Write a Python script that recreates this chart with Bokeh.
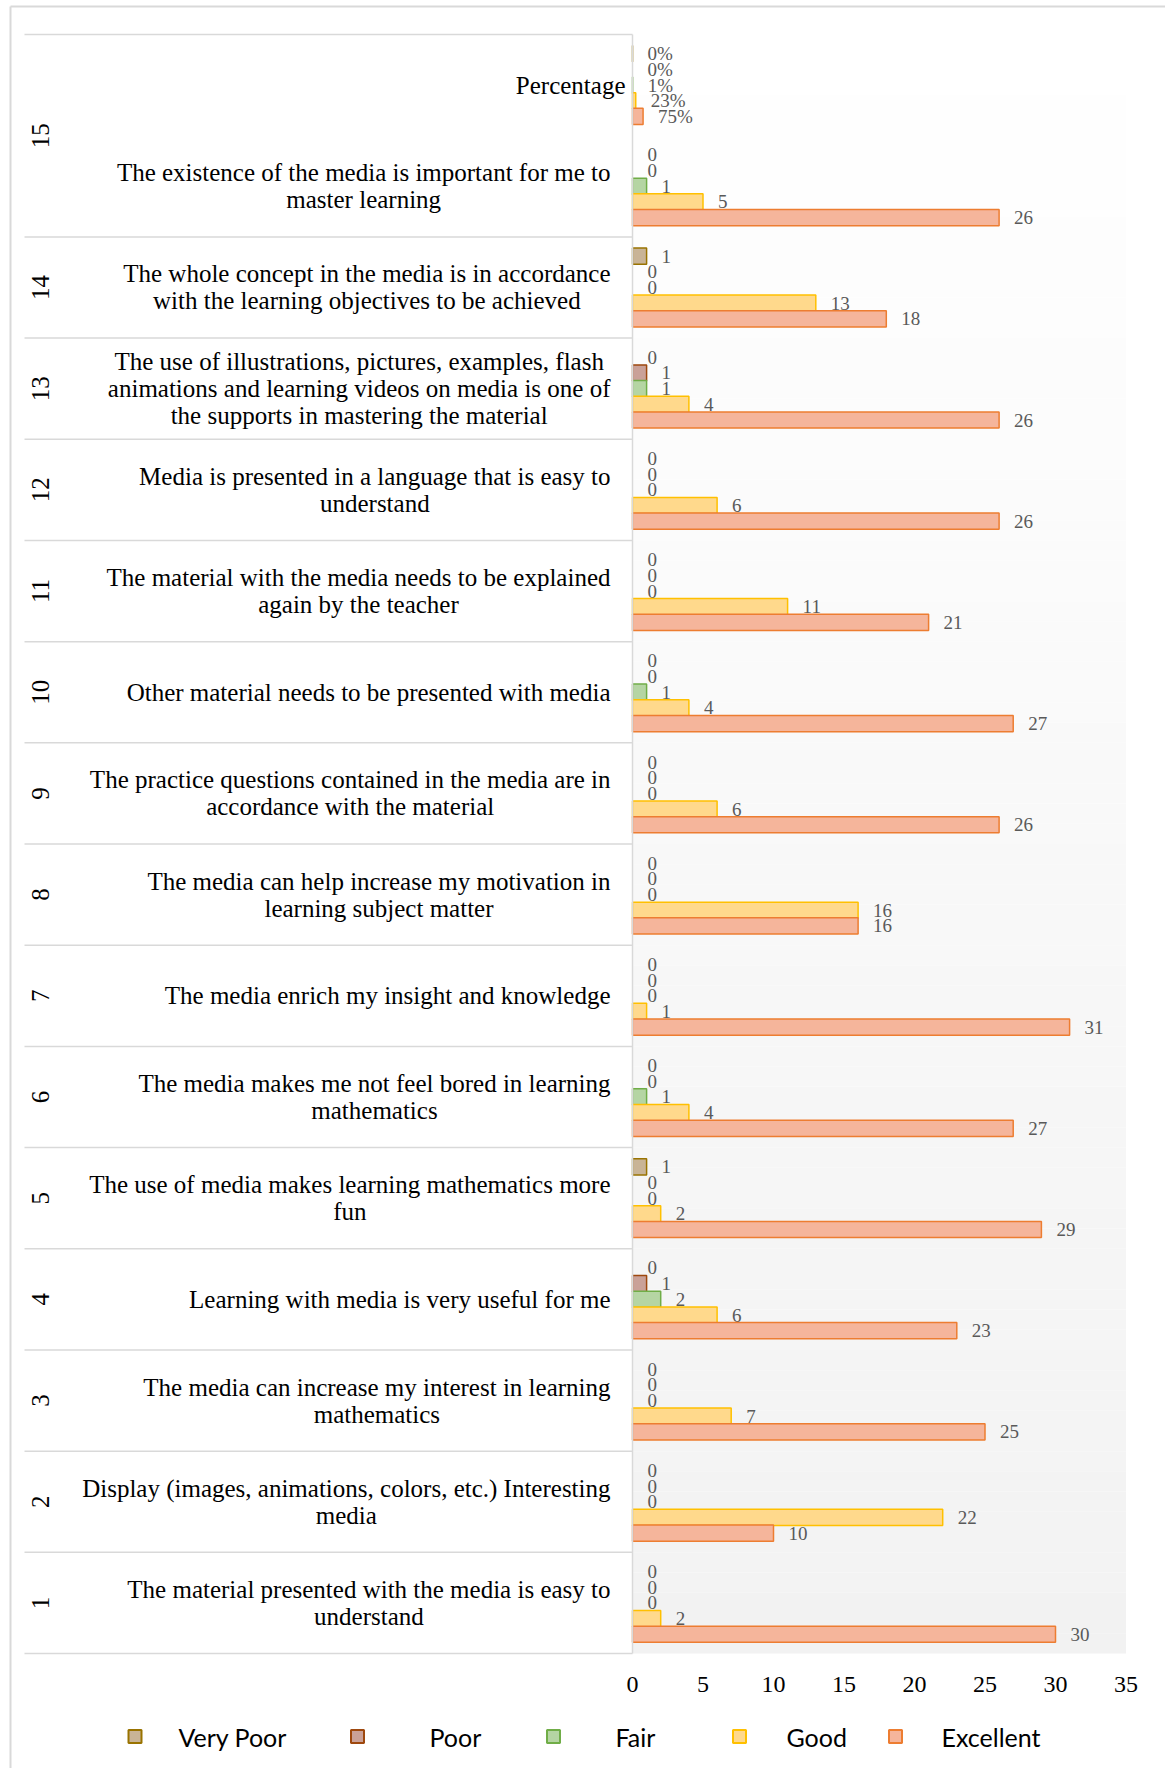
import math
from bokeh.plotting import figure
from bokeh.models import ColumnDataSource, Range1d
from bokeh.transform import dodge
from bokeh.core.properties import value
from bokeh.embed import file_html
from bokeh.resources import INLINE

# ---------------- data (bottom to top) ----------------
groups = ["1", "2", "3", "4", "5", "6", "7", "8", "9", "10", "11", "12", "13", "14", "15"]
group_sizes = [1, 1, 1, 1, 1, 1, 1, 1, 1, 1, 1, 1, 1, 1, 2]
statements = [
    "The material presented with the media is easy to\nunderstand",
    "Display (images, animations, colors, etc.) Interesting\nmedia",
    "The media can increase my interest in learning\nmathematics",
    "Learning with media is very useful for me",
    "The use of media makes learning mathematics more\nfun",
    "The media makes me not feel bored in learning\nmathematics",
    "The media enrich my insight and knowledge",
    "The media can help increase my motivation in\nlearning subject matter",
    "The practice questions contained in the media are in\naccordance with the material",
    "Other material needs to be presented with media",
    "The material with the media needs to be explained\nagain by the teacher",
    "Media is presented in a language that is easy to\nunderstand",
    "The use of illustrations, pictures, examples, flash\nanimations and learning videos on media is one of\nthe supports in mastering the material",
    "The whole concept in the media is in accordance\nwith the learning objectives to be achieved",
    "The existence of the media is important for me to\nmaster learning",
    "Percentage",
]
series_names = ["Very Poor", "Poor", "Fair", "Good", "Excellent"]
very_poor = [0, 0, 0, 0, 1, 0, 0, 0, 0, 0, 0, 0, 0, 1, 0, 0.003]
poor      = [0, 0, 0, 1, 0, 0, 0, 0, 0, 0, 0, 0, 1, 0, 0, 0.00]
fair      = [0, 0, 0, 2, 0, 1, 0, 0, 0, 1, 0, 0, 1, 0, 1, 0.01]
good      = [2, 22, 7, 6, 2, 4, 1, 16, 6, 4, 11, 6, 4, 13, 5, 0.23]
excellent = [30, 10, 25, 23, 29, 27, 31, 16, 26, 27, 21, 26, 26, 18, 26, 0.75]
is_percentage_row = [False] * 15 + [True]
tick_values = [0, 5, 10, 15, 20, 25, 30, 35]

# ---------------- styles ----------------
fills = ["#c9b496", "#caa198", "#b5d5a3", "#ffd98c", "#f5b59b"]
lines = ["#997300", "#9e480e", "#70ad47", "#ffc000", "#ed7d31"]
SERIF = value("Liberation Serif")
SANS = value("Lato")

# ---------------- geometry (page px -> data) ----------------
W, H = 1165, 1768
X0_PAGE, PX_PER_UNIT = 632.0, 14.1
Y0_PAGE, SLOT_PX = 1653.0, 101.1875


def px_x(page_x):
    return (page_x - X0_PAGE) / PX_PER_UNIT


def px_y(page_y):
    return (Y0_PAGE - page_y) / SLOT_PX


n_slots = len(statements)
axis_max = tick_values[-1]

p = figure(width=W, height=H,
           x_range=Range1d(px_x(0), px_x(W)),
           y_range=Range1d(px_y(H), px_y(0)),
           output_backend="svg", toolbar_location=None, min_border=0,
           x_axis_location=None, y_axis_location=None)
p.grid.grid_line_color = None
p.outline_line_color = None
p.background_fill_color = "white"
p.border_fill_color = "white"

# plot-area gradient background (white at top -> light grey at bottom)
N = 80
bb, tt, cc = [], [], []
for k in range(N):
    bb.append(n_slots * k / N)
    tt.append(n_slots * (k + 1) / N)
    t = (k + 0.5) / N
    g = int(round(242 + 13 * t))
    cc.append("#%02x%02x%02x" % (g, g, g))
p.quad(left=0, right=axis_max, bottom=bb, top=tt, fill_color=cc, line_color=None)

# ---------------- bars ----------------
centers = [i + 0.5 for i in range(n_slots)]
BAR_STEP = 0.155
BAR_H = 0.16
offsets = [2 * BAR_STEP, BAR_STEP, 0, -BAR_STEP, -2 * BAR_STEP]
all_series = [very_poor, poor, fair, good, excellent]

for j, vals in enumerate(all_series):
    labs = [("%d%%" % round(v * 100)) if pct else str(int(v))
            for v, pct in zip(vals, is_percentage_row)]
    la = [0.0 if v == 0 else 1.0 for v in vals]
    src = ColumnDataSource(dict(y=centers, v=vals, lab=labs, la=la))
    p.hbar(y=dodge("y", offsets[j]), left=0, right="v", height=BAR_H,
           fill_color=fills[j], line_color=lines[j], line_alpha="la",
           line_width=1.5, source=src)
    p.text(x="v", y=dodge("y", offsets[j]), text="lab", x_offset=15,
           text_align="left", text_baseline="middle", text_font=SERIF,
           text_font_size="19px", text_color="#595959", source=src)

# ---------------- category axis (drawn) ----------------
grey = "#d9d9d9"
bounds = [0]
for s in group_sizes:
    bounds.append(bounds[-1] + s)
p.segment(x0=px_x(24), x1=0, y0=bounds, y1=bounds, line_color=grey, line_width=1.5)
p.segment(x0=[0], x1=[0], y0=[0], y1=[n_slots], line_color=grey, line_width=1.5)

label_right = [px_x(625) if pct else px_x(610) for pct in is_percentage_row]
p.text(x=label_right, y=centers, text=statements,
       anchor="center_right", text_align="center", text_baseline="middle",
       text_line_height=1.0, text_font=SERIF, text_font_size="25px",
       text_color="black")

group_centers = [(bounds[i] + bounds[i + 1]) / 2 for i in range(len(groups))]
p.text(x=[px_x(40)] * len(groups), y=group_centers, text=groups, angle=math.pi / 2,
       text_align="center", text_baseline="middle", text_font=SERIF,
       text_font_size="25px", text_color="black")

# value axis tick labels
p.text(x=tick_values, y=[px_y(1684)] * len(tick_values), text=[str(t) for t in tick_values],
       text_align="center", text_baseline="middle", text_font=SERIF,
       text_font_size="24px", text_color="black")

# ---------------- legend ----------------
leg_marker_x = [px_x(v) for v in (134.5, 357, 553, 739, 895)]
leg_text_x = [px_x(v) for v in (178, 429, 615, 786, 941)]
leg_y = px_y(1736)
p.rect(x=leg_marker_x, y=[leg_y] * 5, width=13, height=13, width_units="screen",
       height_units="screen", fill_color=fills, line_color=lines, line_width=2)
p.text(x=leg_text_x, y=[leg_y] * 5, text=series_names, text_align="left",
       text_baseline="middle", text_font=SANS, text_font_size="25px", text_color="black")

# ---------------- outer border (top and left) ----------------
p.segment(x0=[px_x(10)], x1=[px_x(10)], y0=[px_y(H)], y1=[px_y(6)],
          line_color=grey, line_width=2)
p.segment(x0=[px_x(10)], x1=[px_x(W)], y0=[px_y(6)], y1=[px_y(6)],
          line_color=grey, line_width=2)

open("out.html", "w").write(file_html(p, INLINE))
